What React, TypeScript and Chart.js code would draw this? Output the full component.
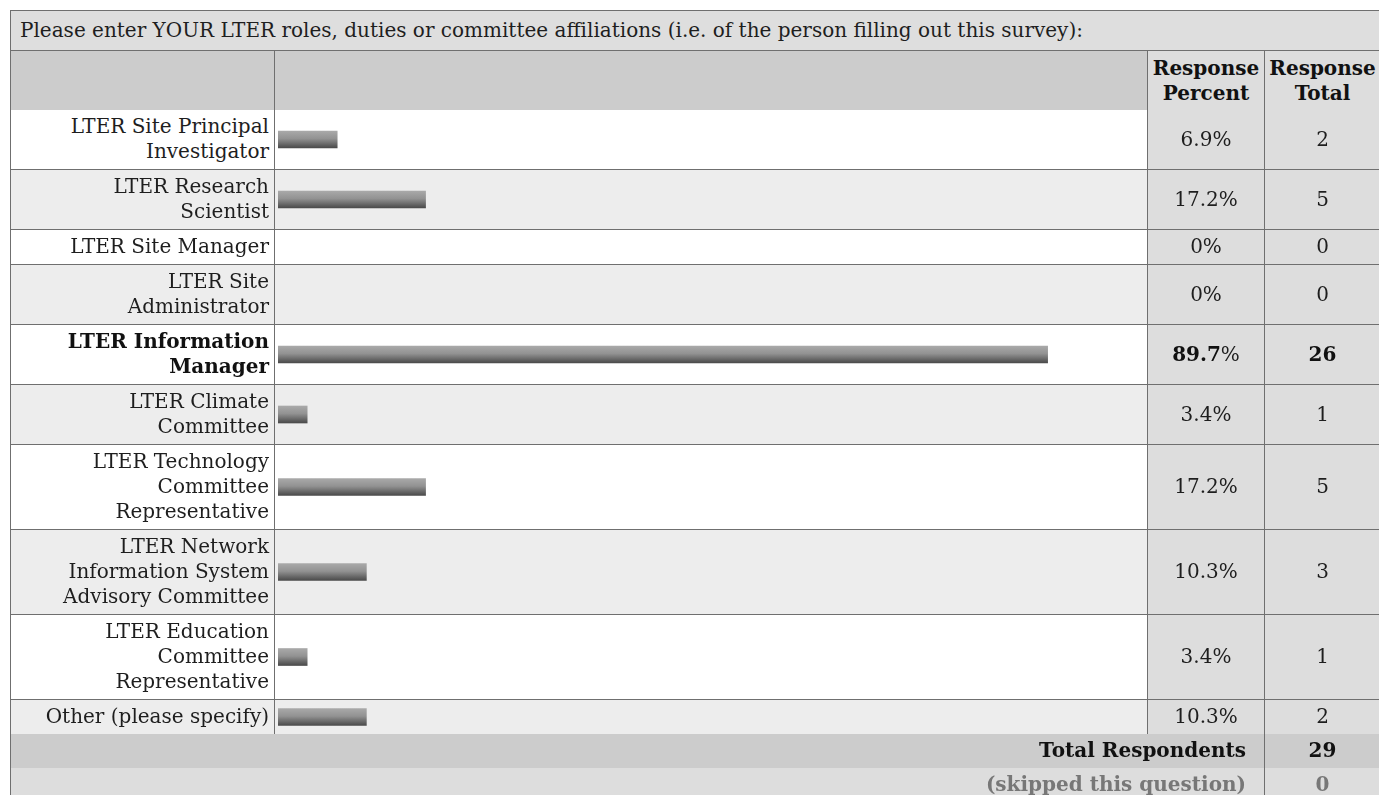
import React, { useEffect, useRef } from "react";
import { Chart, registerables } from "chart.js";

Chart.register(...registerables);

const questionTitle =
  "Please enter YOUR LTER roles, duties or committee affiliations (i.e. of the person filling out this survey):";
const categories = [
  "LTER Site Principal\nInvestigator",
  "LTER Research\nScientist",
  "LTER Site Manager",
  "LTER Site\nAdministrator",
  "LTER Information\nManager",
  "LTER Climate\nCommittee",
  "LTER Technology\nCommittee\nRepresentative",
  "LTER Network\nInformation System\nAdvisory Committee",
  "LTER Education\nCommittee\nRepresentative",
  "Other (please specify)",
];
const percents = [6.9, 17.2, 0, 0, 89.7, 3.4, 17.2, 10.3, 3.4, 10.3];
const totals = [2, 5, 0, 0, 26, 1, 5, 3, 1, 2];
const highlighted = [false, false, false, false, true, false, false, false, false, false];
const headerLabels = ["Response\nPercent", "Response\nTotal"];
const totalLabel = "Total Respondents";
const totalRespondents = 29;
const skippedLabel = "(skipped this question)";
const skippedCount = 0;

const B = "1px solid #6f6f6f";
const LINE = 25;

function RowBar({ label, value, height }: { label: string; value: number; height: number }) {
  const ref = useRef<HTMLCanvasElement>(null);
  useEffect(() => {
    const chart = new Chart(ref.current as HTMLCanvasElement, {
      type: "bar",
      data: {
        labels: [label],
        datasets: [
          {
            data: [value],
            barThickness: 17,
            borderWidth: 0,
            backgroundColor: (ctx: any) => {
              if (!ctx.raw) return "rgba(0,0,0,0)";
              const c = ctx.chart;
              const area = c.chartArea;
              if (!area) return "#888";
              const y = c.scales && c.scales.y;
              let cy = y ? y.getPixelForValue(ctx.dataIndex) : NaN;
              if (!isFinite(cy)) cy = (area.top + area.bottom) / 2;
              const g = c.ctx.createLinearGradient(0, cy - 8.5, 0, cy + 8.5);
              g.addColorStop(0, "#a9a9a9");
              g.addColorStop(0.45, "#929292");
              g.addColorStop(1, "#4a4a4a");
              return g;
            },
          },
        ],
      },
      options: {
        indexAxis: "y",
        responsive: false,
        animation: false,
        layout: { padding: 0 },
        plugins: { legend: { display: false }, tooltip: { enabled: false } },
        scales: {
          x: { min: 0, max: 100, display: false },
          y: { display: false },
        },
      },
    } as any);
    return () => chart.destroy();
  }, [label, value, height]);
  return (
    <canvas
      ref={ref}
      width={858}
      height={height}
      style={{ display: "block", width: 858, height, marginLeft: 3 }}
    />
  );
}

export default function App() {
  const n = categories.length;
  return (
    <div
      style={{
        position: "absolute",
        left: 10,
        top: 10,
        width: 1369,
        height: 785,
        overflow: "hidden",
        background: "#fff",
      }}
    >
      <table
        style={{
          borderCollapse: "collapse",
          tableLayout: "fixed",
          width: 1370,
          fontFamily: '"DejaVu Serif", serif',
          fontSize: 20,
          lineHeight: LINE + "px",
          color: "#1e1e1e",
        }}
      >
        <colgroup>
          <col style={{ width: 264 }} />
          <col style={{ width: 873 }} />
          <col style={{ width: 117 }} />
          <col style={{ width: 116 }} />
        </colgroup>
        <tbody>
          <tr>
            <td
              colSpan={4}
              style={{ background: "#dedede", padding: "7px 9px 7px", textAlign: "left", border: B }}
            >
              {questionTitle}
            </td>
          </tr>
          <tr>
            <td style={{ background: "#cccccc", borderLeft: B, borderRight: B, borderTop: B, padding: "5px 2px 4px" }} />
            <td style={{ background: "#cccccc", borderRight: B, borderTop: B }} />
            {headerLabels.map((h, k) => (
              <td
                key={k}
                style={{
                  background: "#dddddd",
                  borderRight: B,
                  borderTop: B,
                  fontWeight: "bold",
                  textAlign: "center",
                  whiteSpace: "pre-line",
                  padding: "5px 0px 4px",
                  color: "#111",
                }}
              >
                {h}
              </td>
            ))}
          </tr>
          {categories.map((cat, i) => {
            const lines = cat.split("\n").length;
            const h = lines * LINE + 9;
            const bg = i % 2 === 0 ? "#ffffff" : "#ededed";
            const top = i === 0 ? "none" : B;
            const bottom = i === n - 1 ? "none" : B;
            const base = { borderTop: top, borderBottom: bottom, borderLeft: B, borderRight: B } as any;
            const bold = highlighted[i];
            return (
              <tr key={i}>
                <td
                  style={{
                    ...base,
                    background: bg,
                    textAlign: "right",
                    whiteSpace: "pre-line",
                    padding: "4px 5px 5px 2px",
                    fontWeight: bold ? "bold" : "normal",
                    color: bold ? "#111" : "#1e1e1e",
                    verticalAlign: "middle",
                  }}
                >
                  {cat}
                </td>
                <td style={{ ...base, background: bg, padding: 0, verticalAlign: "middle" }}>
                  <RowBar label={cat} value={percents[i]} height={h} />
                </td>
                <td style={{ ...base, background: "#dddddd", textAlign: "center", padding: "4px 1px 5px" }}>
                  {bold ? (
                    <>
                      <b style={{ color: "#111" }}>{percents[i]}</b>%
                    </>
                  ) : (
                    percents[i] + "%"
                  )}
                </td>
                <td
                  style={{
                    ...base,
                    background: "#dddddd",
                    textAlign: "center",
                    padding: "4px 1px 5px",
                    fontWeight: bold ? "bold" : "normal",
                    color: bold ? "#111" : "#1e1e1e",
                  }}
                >
                  {totals[i]}
                </td>
              </tr>
            );
          })}
          <tr>
            <td
              colSpan={3}
              style={{
                background: "#cccccc",
                borderLeft: B,
                borderRight: B,
                textAlign: "right",
                fontWeight: "bold",
                padding: "4px 18px 5px 4px",
                color: "#111",
              }}
            >
              {totalLabel}
            </td>
            <td
              style={{
                background: "#cccccc",
                borderRight: B,
                textAlign: "center",
                fontWeight: "bold",
                padding: "4px 1px 5px",
                color: "#111",
              }}
            >
              {totalRespondents}
            </td>
          </tr>
          <tr>
            <td
              colSpan={3}
              style={{
                background: "#dddddd",
                borderLeft: B,
                borderRight: B,
                textAlign: "right",
                fontWeight: "bold",
                padding: "4px 18px 5px 4px",
                color: "#777",
              }}
            >
              {skippedLabel}
            </td>
            <td
              style={{
                background: "#dddddd",
                borderRight: B,
                textAlign: "center",
                fontWeight: "bold",
                padding: "4px 1px 5px",
                color: "#777",
              }}
            >
              {skippedCount}
            </td>
          </tr>
        </tbody>
      </table>
    </div>
  );
}
